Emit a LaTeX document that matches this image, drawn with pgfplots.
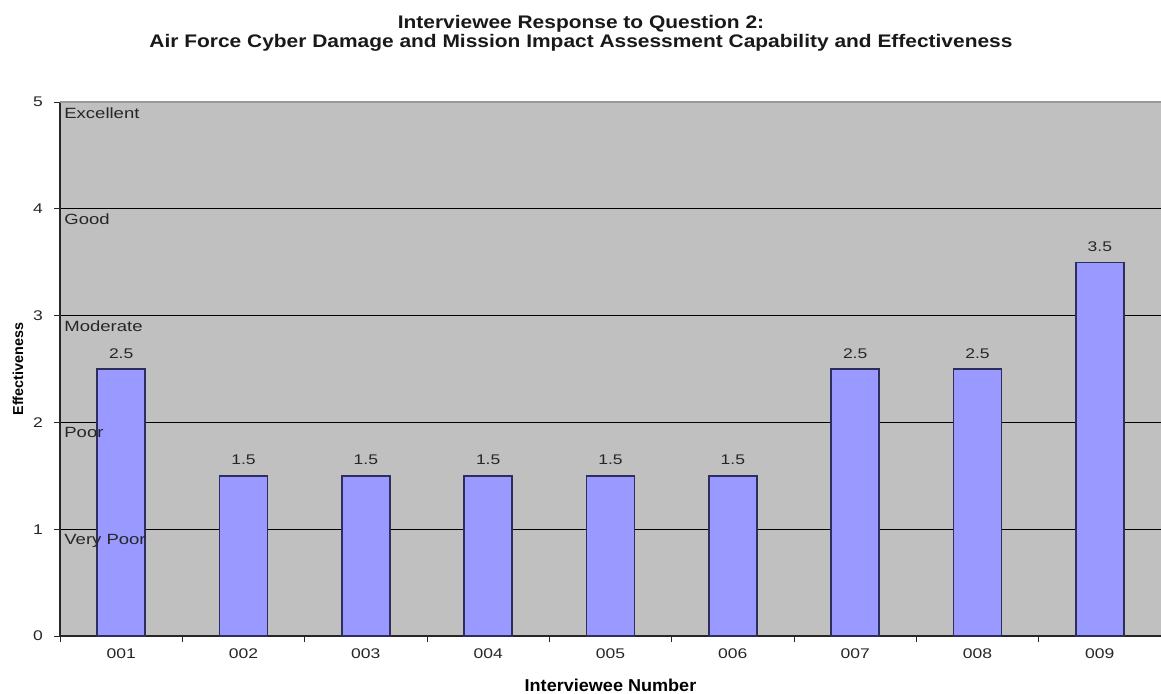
\documentclass[border=0pt]{standalone}
\usepackage{fontspec}
\setmainfont{Liberation Sans}
\newfontfamily\wide{Liberation Sans}[FakeStretch=1.25]
\newfontfamily\widetitle{Liberation Sans}[FakeStretch=1.15]
\newfontfamily\widelab{Liberation Sans}[FakeStretch=1.05]
\usepackage{pgfplots}
\pgfplotsset{compat=1.18}
\definecolor{bgc}{HTML}{C0C0C0}
\definecolor{barfill}{HTML}{9999FF}
\definecolor{barline}{HTML}{2E2E5C}
\begin{document}
\begin{tikzpicture}
\begin{axis}[
  scale only axis, width=550.5pt, height=267pt,
  at={(0,0)}, anchor=south west,
  xmin=-0.5, xmax=8.5, ymin=0, ymax=5,
  axis background/.style={fill=bgc},
  axis x line*=bottom, axis y line*=left,
  axis line style={black!85, line width=0.6pt},
  ytick={1,2,3,4}, extra y ticks={0,5}, extra y tick style={grid=none},
  ymajorgrids, major grid style={black, line width=0.5pt},
  xtick={-0.5,0.5,...,8.5},
  xticklabels={001,002,003,004,005,006,007,008,009},
  x tick label as interval,
  major tick length=3pt,
  tick align=outside,
  tick style={black!85, line width=0.5pt},
  /pgf/number format/assume math mode=true,
  ticklabel style={font=\wide\fontsize{7}{8}\selectfont, text=black!85},
  yticklabel style={xshift=-2pt},
  xlabel={Interviewee Number},
  xlabel style={font=\widelab\bfseries\fontsize{8.6}{9}\selectfont, at={(axis description cs:0.5,0)}, anchor=base, yshift=-27.5pt},
  ylabel={Effectiveness},
  ylabel style={font=\bfseries\fontsize{7.2}{8}\selectfont, at={(axis description cs:-0.0381,0.5)}, anchor=center, rotate=0},
  ybar, bar width=24pt,
  nodes near coords,
  every node near coord/.append style={anchor=south, inner sep=0pt, yshift=5pt, font=\wide\fontsize{7}{8}\selectfont, text=black!85, /pgf/number format/fixed, /pgf/number format/precision=1, /pgf/number format/fixed zerofill},
  clip=false,
]
\draw[black!40, line width=0.6pt] (axis cs:-0.5,5) -- (axis cs:8.5,5);
\addplot[fill=barfill, draw=barline, line width=0.7pt, bar shift=0pt] coordinates {
  (0,2.5) (1,1.5) (2,1.5) (3,1.5) (4,1.5) (5,1.5) (6,2.5) (7,2.5) (8,3.5)};
\foreach \lab/\lev in {Excellent/5, Good/4, Moderate/3, Poor/2, Very Poor/1} {
  \edef\temp{\noexpand\node[anchor=north west, inner sep=0pt, xshift=2pt, yshift=-2.5pt, font=\noexpand\wide\noexpand\fontsize{7.4}{8}\noexpand\selectfont, text=black!85] at (axis cs:-0.5,\lev) {\lab};}
  \temp
}
\end{axis}
\node[anchor=base, font=\widetitle\bfseries\fontsize{9.1}{10}\selectfont, text=black!90] at (260.5pt,304pt) {Interviewee Response to Question 2:};
\node[anchor=base, font=\widetitle\bfseries\fontsize{9.1}{10}\selectfont, text=black!90] at (260.5pt,294.5pt) {Air Force Cyber Damage and Mission Impact Assessment Capability and Effectiveness};
\pgfresetboundingbox
\path[use as bounding box] (-30pt,-28.5pt) rectangle (550.5pt,318pt);
\end{tikzpicture}
\end{document}
